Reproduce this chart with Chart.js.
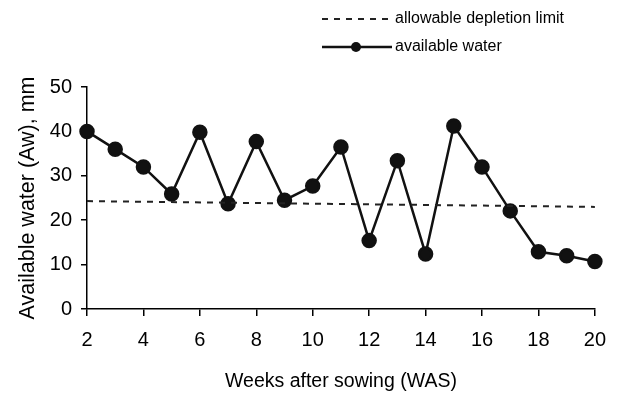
<!DOCTYPE html>
<html>
<head>
<meta charset="utf-8">
<script src="https://cdn.jsdelivr.net/npm/chart.js@4"></script>
<style>
  body { margin: 0; background: #fff; }
  #wrap { width: 618px; height: 396px; }
</style>
</head>
<body>
<div id="wrap"><canvas id="myChart" width="618" height="396"></canvas></div>
<script>
let semanas = [2, 3, 4, 5, 6, 7, 8, 9, 10, 11, 12, 13, 14, 15, 16, 17, 18, 19, 20];
let aguaDisponible = [40, 36, 32, 25.9, 39.8, 23.7, 37.7, 24.5, 27.7, 36.5, 15.4, 33.4, 12.4, 41.2, 32, 22.1, 12.9, 12, 10.7];
let semanasLimite = [2, 20];
let limiteAgotamiento = [24.3, 23.0];
let ticksX = [2, 4, 6, 8, 10, 12, 14, 16, 18, 20];
let ticksY = [0, 10, 20, 30, 40, 50];

const fuente = "'Liberation Sans', Arial, sans-serif";

function puntos(xs, ys) {
    return xs.map((x, k) => ({ x: x, y: ys[k] }));
}

// leyenda dibujada a mano: linea con marcador en el medio
const leyenda = {
    id: 'leyenda',
    afterDraw(chart) {
        const ctx = chart.ctx;
        const items = chart.data.datasets;
        ctx.save();
        ctx.font = '16px ' + fuente;
        ctx.textBaseline = 'middle';
        const filas = [19, 47];
        items.forEach((ds, k) => {
            const y = filas[k];
            ctx.strokeStyle = ds.borderColor;
            ctx.lineWidth = ds.borderWidth;
            ctx.setLineDash(ds.borderDash || []);
            ctx.beginPath();
            ctx.moveTo(322, y);
            ctx.lineTo(392, y);
            ctx.stroke();
            ctx.setLineDash([]);
            if (ds.pointRadius > 0) {
                ctx.fillStyle = ds.pointBackgroundColor;
                ctx.beginPath();
                ctx.arc(356, y, 5, 0, Math.PI * 2);
                ctx.fill();
            }
            ctx.fillStyle = '#000';
            ctx.fillText(ds.label, 395, y);
        });
        ctx.restore();
    }
};

const ctx1 = document.querySelector('#myChart').getContext('2d');

let myChart = new Chart(ctx1, {
    type: 'line',
    data: {
        datasets: [{
            label: 'allowable depletion limit',
            data: puntos(semanasLimite, limiteAgotamiento),
            borderColor: '#222',
            borderWidth: 2,
            borderDash: [6, 6],
            pointRadius: 0,
            clip: false
        }, {
            label: 'available water',
            data: puntos(semanas, aguaDisponible),
            borderColor: '#111',
            borderWidth: 2.5,
            pointRadius: 6.5,
            pointBackgroundColor: '#111',
            pointBorderColor: '#111',
            clip: false
        }]
    },
    options: {
        responsive: false,
        animation: false,
        layout: { padding: { top: 87, right: 22, left: 0, bottom: 0 } },
        plugins: { legend: { display: false }, tooltip: { enabled: false } },
        scales: {
            x: {
                type: 'linear',
                min: 2,
                max: 20,
                afterFit(s) { s.height = 87; },
                afterBuildTicks(s) { s.ticks = ticksX.map(v => ({ value: v })); },
                grid: { drawOnChartArea: false, drawTicks: true, tickLength: 7, color: '#000', lineWidth: 1.5 },
                border: { color: '#000', width: 1.5 },
                ticks: { color: '#000', font: { family: fuente, size: 20 }, padding: 12, maxRotation: 0 },
                title: {
                    display: true,
                    text: 'Weeks after sowing (WAS)',
                    color: '#000',
                    font: { family: fuente, size: 19.5 },
                    padding: { top: 4, bottom: 3 }
                }
            },
            y: {
                min: 0,
                max: 50,
                afterFit(s) { s.width = 87; },
                afterBuildTicks(s) { s.ticks = ticksY.map(v => ({ value: v })); },
                grid: { drawOnChartArea: false, drawTicks: true, tickLength: 6, color: '#000', lineWidth: 1.5 },
                border: { color: '#000', width: 1.5 },
                ticks: { color: '#000', font: { family: fuente, size: 20 }, padding: 9 },
                title: {
                    display: true,
                    text: 'Available water (Aw), mm',
                    color: '#000',
                    font: { family: fuente, size: 21.5 },
                    padding: { top: 15, bottom: 0 }
                }
            }
        }
    },
    plugins: [leyenda]
});
</script>
</body>
</html>
